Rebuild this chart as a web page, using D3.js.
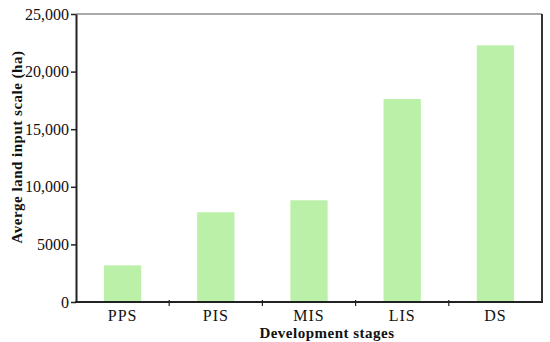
<!DOCTYPE html>
<html>
<head>
<meta charset="utf-8">
<script src="https://cdn.jsdelivr.net/npm/d3@7"></script>
<style>
  body { margin: 0; background: #fff; }
  svg text { font-family: "Liberation Serif", "Times New Roman", serif; fill: #111; }
</style>
</head>
<body>
<svg id="chart" width="550" height="342"></svg>
<script>
// chart values
const stages = ["PPS", "PIS", "MIS", "LIS", "DS"];
const landScale = [3180, 7790, 8830, 17620, 22280];
const yTicks = [0, 5000, 10000, 15000, 20000, 25000];

let svg = d3.select("#chart");

// plot area
let box = {left: 76, right: 542, top: 14, bottom: 302};

let x = d3.scaleBand()
  .domain(stages)
  .range([box.left, box.right])
  .padding(0);

let y = d3.scaleLinear()
  .domain([0, 25000])
  .range([box.bottom, box.top]);

// bars, 40% of a band, centred
let barw = x.bandwidth() * 0.4;
svg.append("g")
  .selectAll("rect")
  .data(stages)
  .join("rect")
  .attr("x", d => x(d) + (x.bandwidth() - barw) / 2)
  .attr("width", barw)
  .attr("y", (d, i) => y(landScale[i]))
  .attr("height", (d, i) => y(0) - y(landScale[i]))
  .attr("fill", "#bbf0a8");

// top and right frame
svg.append("line")
  .attr("x1", box.left).attr("x2", box.right)
  .attr("y1", box.top).attr("y2", box.top)
  .attr("stroke", "#555").attr("stroke-width", 1.2);
svg.append("line")
  .attr("x1", box.right).attr("x2", box.right)
  .attr("y1", box.top).attr("y2", box.bottom)
  .attr("stroke", "#333").attr("stroke-width", 2);

// y axis
let fmt = v => v === 5000 ? "5000" : d3.format(",")(v);
let yAxis = svg.append("g")
  .attr("transform", `translate(${box.left},0)`)
  .call(d3.axisLeft(y).tickValues(yTicks).tickFormat(fmt).tickSize(5).tickPadding(2).tickSizeOuter(0));
yAxis.select(".domain").attr("stroke", "#222").attr("stroke-width", 2);
yAxis.selectAll(".tick line").attr("stroke", "#222").attr("stroke-width", 1.5);
yAxis.selectAll("text").attr("font-size", 16).attr("fill", "#111");

// x axis: ticks on the band edges, labels at band centres
let edges = stages.slice(1).map(d => x(d));
let xg = svg.append("g");
xg.append("line")
  .attr("x1", box.left - 1).attr("x2", box.right + 1)
  .attr("y1", box.bottom).attr("y2", box.bottom)
  .attr("stroke", "#222").attr("stroke-width", 2);
xg.selectAll("line.tick")
  .data(edges)
  .join("line")
  .attr("class", "tick")
  .attr("x1", d => d).attr("x2", d => d)
  .attr("y1", box.bottom - 2).attr("y2", box.bottom + 4)
  .attr("stroke", "#222").attr("stroke-width", 1.2);
xg.selectAll("text")
  .data(stages)
  .join("text")
  .attr("x", d => x(d) + x.bandwidth() / 2)
  .attr("y", 321)
  .attr("text-anchor", "middle")
  .attr("font-size", 16)
  .attr("letter-spacing", 1)
  .text(d => d);

// axis titles
svg.append("text")
  .attr("x", 327)
  .attr("y", 338)
  .attr("text-anchor", "middle")
  .attr("font-size", 15)
  .attr("font-weight", "bold")
  .attr("letter-spacing", 0.5)
  .text("Development stages");

svg.append("text")
  .attr("transform", "translate(22,147) rotate(-90)")
  .attr("text-anchor", "middle")
  .attr("font-size", 15)
  .attr("font-weight", "bold")
  .attr("letter-spacing", 0.5)
  .text("Averge land input scale (ha)");
</script>
</body>
</html>
